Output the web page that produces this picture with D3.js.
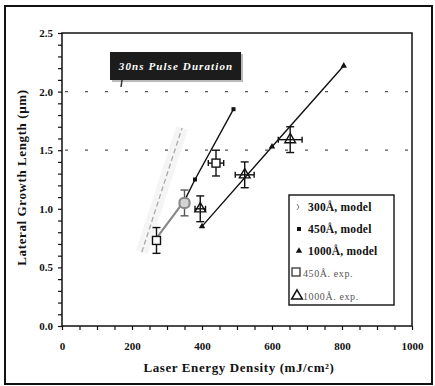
<!DOCTYPE html>
<html>
<head>
<meta charset="utf-8">
<script src="https://cdn.jsdelivr.net/npm/d3@7"></script>
<style>
  body { margin: 0; background: #fff; }
  svg { display: block; }
  text { font-family: "Liberation Serif", "DejaVu Serif", serif; font-weight: bold; }
</style>
</head>
<body>
<div id="chart"></div>
<script>
// values
var xTicks = [0, 200, 400, 600, 800, 1000];
var yTicks = [0.0, 0.5, 1.0, 1.5, 2.0, 2.5];
var gridLevels = [1.5, 2.0];

var model300X = [228, 343];
var model300Y = [0.63, 1.69];
var model450X = [270, 350, 380, 490];
var model450Y = [0.75, 1.07, 1.25, 1.85];
var model1000X = [400, 600, 805];
var model1000Y = [0.85, 1.53, 2.22];

var exp450X = [270, 440];
var exp450Y = [0.73, 1.39];
var exp450Xerr = [0, 22];
var exp450Yerr = [0.11, 0.11];

var greyX = [350], greyY = [1.05], greyXerr = [14], greyYerr = [0.11];

var exp1000X = [395, 522, 652];
var exp1000Y = [1.00, 1.29, 1.59];
var exp1000Xerr = [15, 27, 34];
var exp1000Yerr = [0.11, 0.11, 0.11];

var legendLabels = ["300Å, model", "450Å, model", "1000Å, model", "450Å. exp.", "1000Å. exp."];

var width = 435, height = 386;
var plotLeft = 62, plotRight = 412, plotTop = 33, plotBottom = 326;

var svg = d3.select("#chart").append("svg")
  .attr("width", width)
  .attr("height", height)

// outer frame
svg.append("rect")
  .attr("x", 5).attr("y", 6).attr("width", 427).attr("height", 378)
  .attr("fill", "none").attr("stroke", "#111").attr("stroke-width", 2)

var x = d3.scaleLinear().domain([0, 1000]).range([plotLeft, plotRight]);
var y = d3.scaleLinear().domain([0, 2.5]).range([plotBottom, plotTop]);

// dashed grid lines
svg.selectAll(".grid").data(gridLevels).enter().append("line")
  .attr("x1", plotLeft + 3).attr("x2", plotRight)
  .attr("y1", function(d){ return y(d) }).attr("y2", function(d){ return y(d) })
  .attr("stroke", "#555").attr("stroke-width", 1.2)
  .attr("stroke-dasharray", "3,17")

// axes
var xAxis = d3.axisBottom(x).tickValues(d3.range(0, 1001, 50)).tickSize(4)
  .tickFormat(function(d){ return xTicks.indexOf(d) >= 0 ? d : "" })
var gx = svg.append("g").attr("transform", "translate(0," + plotBottom + ")").call(xAxis)
gx.selectAll("text").attr("dy", 0).attr("y", 24).style("font-size", "11px").attr("fill", "#111")

var yAxis = d3.axisLeft(y).tickValues(d3.range(0, 26).map(function(i){ return i / 10 })).tickSize(4)
  .tickFormat(function(d){
    return yTicks.some(function(t){ return Math.abs(t - d) < 1e-6 }) ? d3.format(".1f")(d) : ""
  })
var gy = svg.append("g").attr("transform", "translate(" + plotLeft + ",0)").call(yAxis)
gy.selectAll("text").attr("x", -9).style("font-size", "11px").attr("fill", "#111")

svg.selectAll(".domain").remove()
svg.selectAll(".tick line").attr("stroke", "#111").attr("stroke-width", 1.2)

// plot box
svg.append("rect")
  .attr("x", plotLeft).attr("y", plotTop).attr("width", plotRight - plotLeft).attr("height", plotBottom - plotTop)
  .attr("fill", "none").attr("stroke", "#111").attr("stroke-width", 1.5)

// annotation box
svg.append("rect").attr("x", 112).attr("y", 54).attr("width", 131).attr("height", 28).attr("fill", "#bbb")
svg.append("rect").attr("x", 110).attr("y", 52).attr("width", 131).attr("height", 28).attr("fill", "#1c1c1c")
svg.append("text").attr("x", 176).attr("y", 70).attr("text-anchor", "middle")
  .attr("fill", "#fff").style("font-style", "italic").style("font-size", "11px").style("letter-spacing", "1.1px")
  .text("30ns Pulse Duration")
svg.append("line").attr("x1", 122).attr("x2", 121).attr("y1", 80).attr("y2", 87)
  .attr("stroke", "#333").attr("stroke-width", 1.5)

var line = d3.line().x(function(d){ return x(d[0]) }).y(function(d){ return y(d[1]) })
var zip = function(a, b){ return a.map(function(v, i){ return [v, b[i]] }) }

// 300 model (faint scan)
var m300 = zip(model300X, model300Y)
svg.append("path").attr("d", line(m300)).attr("stroke", "#f5f5f5").attr("stroke-width", 12).attr("fill", "none")
svg.append("path").attr("d", line(m300)).attr("stroke", "#aaa").attr("stroke-width", 1.3)
  .attr("stroke-dasharray", "5,3").attr("fill", "none")

// 450 model
var m450 = zip(model450X, model450Y)
svg.append("path").attr("d", line(m450.slice(0, 2))).attr("stroke", "#888").attr("stroke-width", 2.2).attr("fill", "none")
svg.append("path").attr("d", line(m450.slice(1))).attr("stroke", "#111").attr("stroke-width", 1.4).attr("fill", "none")
svg.selectAll(".m450").data(m450.slice(2)).enter().append("rect")
  .attr("x", function(d){ return x(d[0]) - 2 }).attr("y", function(d){ return y(d[1]) - 2 })
  .attr("width", 4).attr("height", 4).attr("fill", "#111")

// 1000 model
var m1000 = zip(model1000X, model1000Y)
svg.append("path").attr("d", line(m1000)).attr("stroke", "#111").attr("stroke-width", 1.4).attr("fill", "none")
var smallTri = d3.symbol().type(d3.symbolTriangle).size(18)
svg.selectAll(".m1000").data(m1000).enter().append("path")
  .attr("d", smallTri).attr("fill", "#111")
  .attr("transform", function(d){ return "translate(" + x(d[0]) + "," + y(d[1]) + ")" })

// error bars
function errorBars(xs, ys, xe, ye, color) {
  var g = svg.append("g").attr("stroke", color).attr("stroke-width", 1.4).attr("fill", "none")
  xs.forEach(function(xv, i){
    var cx = x(xv), cy = y(ys[i])
    var y0 = y(ys[i] - ye[i]), y1 = y(ys[i] + ye[i])
    g.append("line").attr("x1", cx).attr("x2", cx).attr("y1", y0).attr("y2", y1)
    g.append("line").attr("x1", cx - 4).attr("x2", cx + 4).attr("y1", y0).attr("y2", y0)
    g.append("line").attr("x1", cx - 4).attr("x2", cx + 4).attr("y1", y1).attr("y2", y1)
    if (xe[i] > 0) {
      var x0 = x(xv - xe[i]), x1 = x(xv + xe[i])
      g.append("line").attr("x1", x0).attr("x2", x1).attr("y1", cy).attr("y2", cy)
      g.append("line").attr("x1", x0).attr("x2", x0).attr("y1", cy - 3).attr("y2", cy + 3)
      g.append("line").attr("x1", x1).attr("x2", x1).attr("y1", cy - 3).attr("y2", cy + 3)
    }
  })
}
errorBars(exp450X, exp450Y, exp450Xerr, exp450Yerr, "#111")
errorBars(greyX, greyY, greyXerr, greyYerr, "#555")
errorBars(exp1000X, exp1000Y, exp1000Xerr, exp1000Yerr, "#111")

// grey exp point
svg.selectAll(".grey").data(zip(greyX, greyY)).enter().append("rect")
  .attr("x", function(d){ return x(d[0]) - 5 }).attr("y", function(d){ return y(d[1]) - 5 })
  .attr("width", 10).attr("height", 10).attr("rx", 4)
  .attr("fill", "#d4d4d4").attr("stroke", "#888").attr("stroke-width", 2)

svg.selectAll(".e450").data(zip(exp450X, exp450Y)).enter().append("rect")
  .attr("x", function(d){ return x(d[0]) - 4 }).attr("y", function(d){ return y(d[1]) - 4 })
  .attr("width", 8).attr("height", 8).attr("fill", "#fff").attr("stroke", "#111").attr("stroke-width", 1.4)

var bigTri = d3.symbol().type(d3.symbolTriangle).size(50)
svg.selectAll(".e1000").data(zip(exp1000X, exp1000Y)).enter().append("path")
  .attr("d", bigTri).attr("fill", "none").attr("stroke", "#111").attr("stroke-width", 1.4)
  .attr("transform", function(d){ return "translate(" + x(d[0]) + "," + y(d[1]) + ")" })

// legend
var lg = svg.append("g")
lg.append("rect").attr("x", 289).attr("y", 195).attr("width", 105).attr("height", 110)
  .attr("fill", "#fff").attr("stroke", "#111").attr("stroke-width", 1.4)
var rowY = [207, 229, 251, 273, 296]
legendLabels.forEach(function(lab, i){
  var isExp = i >= 3
  lg.append("text").attr("x", isExp ? 303 : 308).attr("y", rowY[i] + 4)
    .style("font-size", isExp ? "10px" : "11.5px")
    .style("font-weight", isExp ? "normal" : "bold")
    .style("letter-spacing", isExp ? "0.6px" : "0.2px")
    .attr("fill", isExp ? "#555" : "#111")
    .text(lab)
})
lg.append("path").attr("d", "M297,204 L299,207 L297,210").attr("stroke", "#777").attr("fill", "none").attr("stroke-width", 1)
lg.append("rect").attr("x", 297).attr("y", 227).attr("width", 4).attr("height", 4).attr("fill", "#111")
lg.append("path").attr("d", smallTri).attr("fill", "#111").attr("transform", "translate(299,251)")
lg.append("rect").attr("x", 292).attr("y", 268).attr("width", 8).attr("height", 8)
  .attr("fill", "#fff").attr("stroke", "#333").attr("stroke-width", 1.3)
lg.append("path").attr("d", bigTri).attr("fill", "none").attr("stroke", "#111").attr("stroke-width", 1.5)
  .attr("transform", "translate(297,296)")

// axis titles
svg.append("text").attr("x", (plotLeft + plotRight) / 2 + 2).attr("y", 372).attr("text-anchor", "middle")
  .style("font-size", "13px").style("letter-spacing", "0.6px").attr("fill", "#111")
  .text("Laser Energy Density (mJ/cm²)")
svg.append("text").attr("transform", "translate(26," + ((plotTop + plotBottom) / 2 - 2) + ") rotate(-90)")
  .attr("text-anchor", "middle")
  .style("font-size", "13px").style("letter-spacing", "0.6px").attr("fill", "#111")
  .text("Lateral Growth Length (µm)")
</script>
</body>
</html>
